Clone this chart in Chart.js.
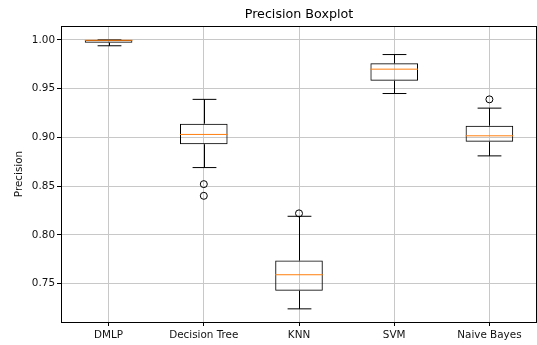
<!DOCTYPE html>
<html>
<head>
<meta charset="utf-8">
<title>Precision Boxplot</title>
<script src="https://cdn.jsdelivr.net/npm/chart.js@4"></script>
<style>
  body { margin: 0; background: #fff; }
</style>
</head>
<body>
<canvas id="boxplot" width="537" height="345"></canvas>
<script>
// box statistics per model
var models = ["DMLP", "Decision Tree", "KNN", "SVM", "Naive Bayes"];
var whiskerLow = [0.994, 0.869, 0.724, 0.945, 0.881];
var q1 = [0.9972, 0.893, 0.7425, 0.958, 0.8955];
var medians = [0.9996, 0.903, 0.759, 0.970, 0.9016];
var q3 = [1.000, 0.914, 0.7735, 0.976, 0.912];
var whiskerHigh = [1.000, 0.939, 0.819, 0.985, 0.930];

// fliers
var outlierModel = ["Decision Tree", "Decision Tree", "KNN", "Naive Bayes"];
var outlierValue = [0.852, 0.840, 0.822, 0.939];

var yTicks = [0.75, 0.80, 0.85, 0.90, 0.95, 1.00];

var FONT = "'DejaVu Sans', sans-serif";
var chartTitle = "Precision Boxplot";

// whiskers, caps, medians, the frame around the axes and the title
var boxExtras = {
    id: "boxExtras",
    afterDatasetsDraw: function (chart) {
        var ctx = chart.ctx;
        var y = chart.scales.y;
        var bars = chart.getDatasetMeta(0).data;
        ctx.save();
        for (var i = 0; i < models.length; i++) {
            var bar = bars[i];
            var half = bar.width / 2;
            var cap = bar.width / 4;
            var x = Math.round(bar.x) + 0.5;

            ctx.strokeStyle = "#000";
            ctx.lineWidth = 1;
            ctx.beginPath();
            ctx.moveTo(x, y.getPixelForValue(q3[i]));
            ctx.lineTo(x, y.getPixelForValue(whiskerHigh[i]));
            ctx.moveTo(x, y.getPixelForValue(q1[i]));
            ctx.lineTo(x, y.getPixelForValue(whiskerLow[i]));
            ctx.moveTo(x - cap, y.getPixelForValue(whiskerHigh[i]));
            ctx.lineTo(x + cap, y.getPixelForValue(whiskerHigh[i]));
            ctx.moveTo(x - cap, y.getPixelForValue(whiskerLow[i]));
            ctx.lineTo(x + cap, y.getPixelForValue(whiskerLow[i]));
            ctx.stroke();

            ctx.strokeStyle = "#ff7f0e";
            ctx.beginPath();
            ctx.moveTo(bar.x - half, y.getPixelForValue(medians[i]));
            ctx.lineTo(bar.x + half, y.getPixelForValue(medians[i]));
            ctx.stroke();
        }
        var a = chart.chartArea;
        ctx.strokeStyle = "#000";
        ctx.strokeRect(a.left + 0.5, a.top + 0.5, a.right - a.left - 1, a.bottom - a.top);

        // title centred over the plot area
        ctx.fillStyle = "#000";
        ctx.font = "12.7px " + FONT;
        ctx.textAlign = "center";
        ctx.textBaseline = "middle";
        ctx.fillText(chartTitle, (a.left + a.right) / 2, 15);
        ctx.restore();
    }
};

var flierPoints = outlierModel.map(function (m, k) {
    return { x: m, y: outlierValue[k] };
});

var ctx1 = document.getElementById("boxplot");
var myBoxChart = new Chart(ctx1, {
    type: "bar",
    data: {
        labels: models,
        datasets: [{
            label: "IQR",
            data: q1.map(function (v, i) { return [v, q3[i]]; }),
            backgroundColor: "rgba(0,0,0,0)",
            borderColor: "#000",
            borderWidth: 1,
            borderSkipped: false,
            barPercentage: 0.5,
            categoryPercentage: 1.0
        }, {
            type: "line",
            label: "fliers",
            data: flierPoints,
            showLine: false,
            pointStyle: "circle",
            pointRadius: 3.5,
            pointBorderWidth: 1,
            pointBorderColor: "#000",
            pointBackgroundColor: "rgba(0,0,0,0)"
        }]
    },
    options: {
        responsive: false,
        animation: false,
        layout: { autoPadding: false, padding: { left: 0, right: 0, top: 26, bottom: 0 } },
        plugins: {
            legend: { display: false },
            tooltip: { enabled: false },
            title: { display: false }
        },
        scales: {
            x: {
                offset: true,
                grid: { offset: false, color: "#c8c8c8", lineWidth: 1, tickColor: "#000", tickLength: 4 },
                border: { display: true, color: "#000", width: 1 },
                ticks: { color: "#111", font: { family: FONT, size: 10.4 }, padding: 3, maxRotation: 0 },
                afterFit: function (scale) {
                    scale.height = 23;
                    scale.paddingLeft = 0;
                    scale.paddingRight = 0;
                }
            },
            y: {
                min: 0.7105,
                max: 1.0143,
                afterBuildTicks: function (scale) {
                    scale.ticks = yTicks.map(function (v) { return { value: v }; });
                },
                grid: { color: "#c8c8c8", lineWidth: 1, tickColor: "#000", tickLength: 4 },
                border: { display: true, color: "#000", width: 1 },
                ticks: {
                    color: "#111",
                    font: { family: FONT, size: 10.4 },
                    padding: 2,
                    callback: function (v) { return v.toFixed(2); }
                },
                title: {
                    display: true,
                    text: "Precision",
                    color: "#111",
                    font: { family: FONT, size: 10.4 },
                    padding: { top: 13, bottom: 0 }
                },
                afterFit: function (scale) {
                    scale.width = 61;
                    scale.paddingTop = 0;
                    scale.paddingBottom = 0;
                }
            }
        }
    },
    plugins: [boxExtras]
});
</script>
</body>
</html>
